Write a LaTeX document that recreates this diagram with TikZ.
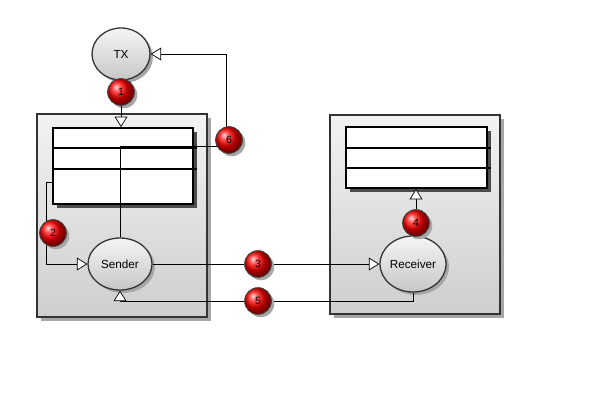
\documentclass[tikz,border=0pt]{standalone}
\usepackage{fontspec}
\setmainfont{Liberation Sans}
\usetikzlibrary{arrows.meta,positioning,shapes.geometric,shadows}

\begin{document}
\begin{tikzpicture}[
    x=0.03cm,
    y=-0.03cm,
    box/.style={draw=black!80, line width=1.1pt, top color=black!5, bottom color=black!19,
      drop shadow={shadow xshift=3.5pt, shadow yshift=-3.5pt, fill=black!35, opacity=1}},
    tab/.style={draw=black, line width=1.5pt, fill=white, inner sep=0pt,
      drop shadow={shadow xshift=3.5pt, shadow yshift=-3.5pt, fill=black!70, opacity=1}},
    rowline/.style={black, line width=1.5pt},
    proc/.style={ellipse, draw=black!80, line width=1.1pt, inner sep=0pt,
      top color=black!4, bottom color=black!22, font=\fontsize{10}{12}\selectfont,
      drop shadow={shadow xshift=2.5pt, shadow yshift=-2.5pt, fill=black!35, opacity=1}},
    badge/.style={circle, draw=black!75, line width=0.8pt, minimum size=0.8cm, inner sep=0pt,
      ball color=red, font=\fontsize{9}{11}\selectfont,
      drop shadow={shadow xshift=2.5pt, shadow yshift=-2.5pt, fill=black!35, opacity=1}},
    link/.style={line width=0.6pt, -{Triangle[length=9pt, width=11pt, fill=white]}},
    wire/.style={line width=0.6pt}
  ]
    \useasboundingbox (0,0) rectangle (599,417);

    % containers
    \draw[box] (37,114) rectangle (207,317);
    \draw[box] (330,115) rectangle (500,314);

    % tables
    \node[tab, minimum width=4.2cm, minimum height=2.28cm] (sendtab) at (123,166) {};
    \draw[rowline] (53,148) -- (197,148);
    \draw[rowline] (53,169) -- (197,169);
    \node[tab, minimum width=4.23cm, minimum height=1.83cm] (rectab) at (416.5,157.5) {};
    \draw[rowline] (346,148) -- (491,148);
    \draw[rowline] (346,168) -- (491,168);

    % processes
    \node[proc, minimum width=1.74cm, minimum height=1.56cm] (tx) at (121,54) {TX};
    \node[proc, minimum width=1.92cm, minimum height=1.56cm] (sender) at (120,264) {Sender};
    \node[proc, minimum width=1.98cm, minimum height=1.68cm] (receiver) at (413,264) {Receiver};

    % connectors
    \coordinate (c2) at (46,182);
    \coordinate (c6) at (226,146);
    \coordinate (c5) at (258,301);
    \draw[wire] (sendtab.west |- c2) -- (c2);
    \draw[link] (c2) |- (sender.west);
    \draw[link] (sender.north) |- (c6) |- (tx.east);
    \draw[link] (sender.east) -- (receiver.west);
    \draw[link] (receiver.south) |- (sender.south |- c5) -- (sender.south);

    % badges
    \node[badge] (b1) at (121,92) {1};
    \node[badge] (b2) at (53,233) {2};
    \node[badge] (b3) at (258,264) {3};
    \node[badge] (b4) at (416,223) {4};
    \node[badge] (b5) at (c5) {5};
    \node[badge] (b6) at (229,140) {6};

    \draw[link] (b1.south) -- (b1.south |- sendtab.north);
    \draw[link] (b4.north) -- (b4.north |- rectab.south);
  \end{tikzpicture}
\end{document}
